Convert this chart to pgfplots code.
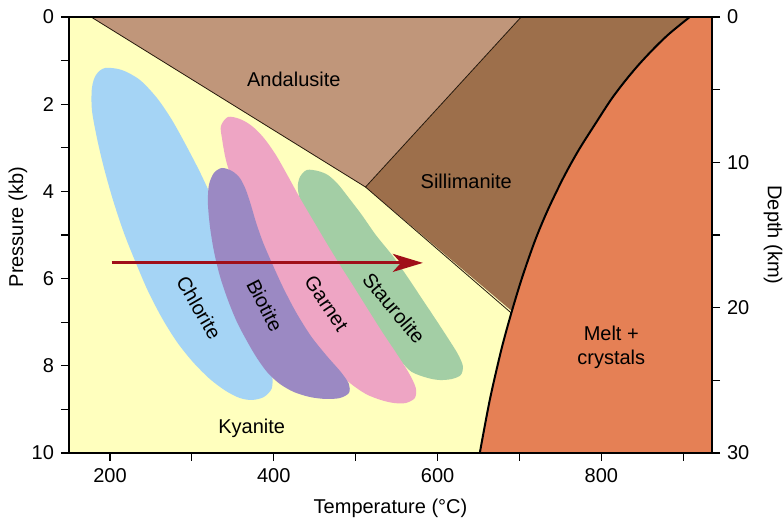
\documentclass[border=0pt]{standalone}
\usepackage{fontspec}
\setmainfont{Liberation Sans}
\usepackage{pgfplots}
\pgfplotsset{compat=1.18}
\usetikzlibrary{arrows.meta}

\definecolor{kyanite}{HTML}{FFFFBE}
\definecolor{andal}{HTML}{C0967A}
\definecolor{silli}{HTML}{9D6F4B}
\definecolor{melt}{HTML}{E58055}
\definecolor{chlor}{HTML}{A5D4F5}
\definecolor{biot}{HTML}{9B89C3}
\definecolor{garn}{HTML}{EEA5C4}
\definecolor{staur}{HTML}{A3CEA5}
\definecolor{arrowred}{HTML}{A00F19}

\pgfplotsset{
  pt/.style={
    scale only axis, width=321.5pt, height=218pt,
    xmin=150, xmax=935, y dir=reverse,
    tick align=outside,
    major tick length=4pt, minor tick length=4pt,
    tick style={black, line width=0.6pt},
    axis line style={line width=0.6pt},
    ticklabel style={font=\fontsize{10}{12}\selectfont},
    label style={font=\fontsize{10}{12}\selectfont},
    /pgf/number format/assume math mode=true,
  },
}

% melting curve (T in C, P in kb)
\pgfplotstableread{
T P
651.5 10.000
663.7 8.784
677.7 7.638
690.0 6.789
703.4 5.963
719.2 5.115
734.5 4.427
754.0 3.670
772.3 3.050
792.4 2.454
811.4 1.904
827.5 1.500
844.7 1.112
863.0 0.743
882.3 0.392
907.8 0
}\meltcurve

% index mineral zones (outlines)
\pgfplotstableread{
T P
193.9 1.170
214.6 1.216
236.6 1.445
257.4 1.858
275.7 2.362
292.7 2.936
309.8 3.555
325.7 4.197
341.6 4.885
356.2 5.619
369.6 6.307
381.8 6.995
391.6 7.638
397.7 8.142
397.7 8.509
387.9 8.716
373.3 8.784
358.6 8.739
341.6 8.578
322.0 8.303
301.3 7.913
281.8 7.454
263.5 6.904
246.4 6.284
231.7 5.642
217.1 4.954
203.7 4.197
192.7 3.463
184.1 2.775
178.0 2.133
178.0 1.628
182.9 1.330
}\chlorite

\pgfplotstableread{
T P
336.7 3.463
348.9 3.532
358.6 3.693
366.0 3.968
372.1 4.312
378.2 4.702
386.7 5.161
397.7 5.642
411.1 6.193
427.0 6.766
445.3 7.317
464.8 7.775
481.9 8.142
491.7 8.417
491.7 8.624
480.7 8.739
463.6 8.761
444.1 8.716
424.5 8.601
407.5 8.417
392.8 8.165
379.4 7.821
367.2 7.431
355.0 6.995
344.0 6.491
334.2 5.940
326.9 5.367
322.0 4.794
319.6 4.266
320.8 3.853
326.9 3.578
}\biotite

\pgfplotstableread{
T P
344.0 2.294
358.6 2.339
373.3 2.500
387.9 2.775
402.6 3.165
417.2 3.647
431.9 4.151
447.7 4.656
463.6 5.161
480.7 5.688
497.8 6.193
516.1 6.743
533.1 7.248
550.2 7.729
564.9 8.165
573.4 8.509
572.2 8.739
561.2 8.853
546.6 8.853
530.7 8.784
512.4 8.647
492.9 8.394
472.1 8.028
451.4 7.569
430.6 7.018
411.1 6.422
392.8 5.803
376.9 5.183
363.5 4.541
351.3 3.876
341.6 3.280
336.7 2.775
335.5 2.500
}\garnet

\pgfplotstableread{
T P
440.4 3.509
453.8 3.532
466.0 3.624
478.2 3.830
491.7 4.151
507.5 4.541
524.6 5.000
545.3 5.482
562.4 5.940
579.5 6.422
596.6 6.904
612.5 7.362
624.7 7.729
630.8 8.005
628.3 8.211
617.3 8.303
602.7 8.326
588.1 8.280
568.5 8.142
555.1 7.890
540.5 7.546
524.6 7.087
506.3 6.560
488.0 6.009
469.7 5.436
452.6 4.862
434.3 4.312
429.4 3.922
431.9 3.670
}\staurolite

\begin{document}
\begin{tikzpicture}
\begin{axis}[pt,
  ymin=0, ymax=10,
  axis on top,
  axis background/.style={fill=kyanite},
  xtick={200,400,600,800}, minor xtick={300,500,700,900},
  ytick={0,2,4,6,8,10}, minor ytick={1,3,5,7,9},
  xtick pos=bottom, ytick pos=left,
  xlabel={Temperature (°C)}, ylabel={Pressure (kb)},
  every axis x label/.style={at={(axis description cs:0.5,-0.1261)}, anchor=center},
  every axis y label/.style={at={(axis description cs:-0.0793,0.518)}, rotate=90, anchor=center},
  every node/.append style={font=\fontsize{9}{11}\selectfont},
]
% Andalusite field
\addplot[fill=andal, draw=none] coordinates {(177,0) (702,0) (512,3.9)} -- cycle;
% Sillimanite field (right part is covered by the melt field)
\addplot[fill=silli, draw=none] coordinates {(512,3.9) (702,0) (935,0) (935,8) (760,7.85)} -- cycle;
% Melt + crystals
\addplot[fill=melt, draw=none, smooth] table {\meltcurve}
  -- (axis cs:935,0) -- (axis cs:935,10) -- cycle;
% phase boundaries
\addplot[draw=black!80!brown, line width=0.4pt] coordinates {(177,0) (512,3.9) (690,6.79)};
\addplot[draw=black!80!brown, line width=0.4pt] coordinates {(512,3.9) (702,0)};
\addplot[draw=black, line width=1pt, smooth] table {\meltcurve};

\addplot[fill=chlor, draw=none, smooth cycle] table {\chlorite};
\addplot[fill=staur, draw=none, smooth cycle] table {\staurolite};
\addplot[fill=garn, draw=none, smooth cycle] table {\garnet};
\addplot[fill=biot, draw=none, smooth cycle] table {\biotite};

% heating path
\addplot[draw=arrowred, line width=1.5pt, -{Stealth[length=15pt,width=9pt,inset=4pt]}]
  coordinates {(202,5.64) (582,5.64)};

\node at (axis cs:424.5,1.43) {Andalusite};
\node at (axis cs:635,3.78) {Sillimanite};
\node[align=center] at (axis cs:812,7.58) {Melt +\\crystals};
\node at (axis cs:373,9.43) {Kyanite};
\node[rotate=-60] at (axis cs:308.8,6.66) {Chlorite};
\node[rotate=-63] at (axis cs:389.2,6.62) {Biotite};
\node[rotate=-56] at (axis cs:464.4,6.57) {Garnet};
\node[rotate=-50] at (axis cs:546.8,6.68) {Staurolite};
\end{axis}

\begin{axis}[pt,
  ymin=0, ymax=30,
  axis x line=none, axis y line*=right,
  ytick={0,10,20,30}, minor ytick={5,15,25},
  ylabel={Depth (km)},
  every axis y label/.style={at={(axis description cs:1.0949,0.5)}, rotate=-90, anchor=center},
]
\end{axis}

\pgfresetboundingbox
\useasboundingbox (-34.5pt,-34.5pt) rectangle (357pt,226.5pt);
\end{tikzpicture}
\end{document}
